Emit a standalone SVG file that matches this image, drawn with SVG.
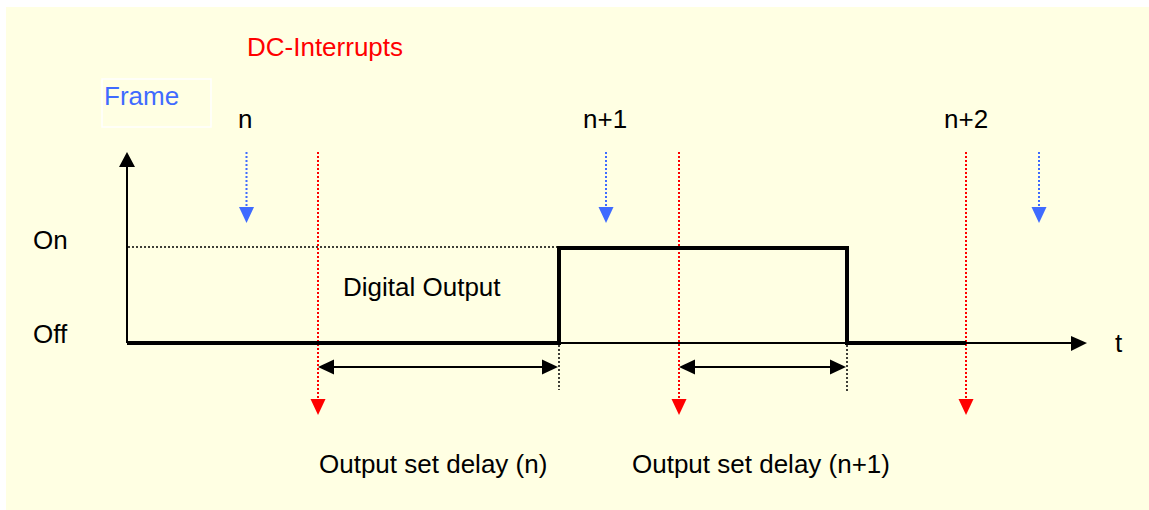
<svg xmlns="http://www.w3.org/2000/svg" width="1149" height="510" viewBox="0 0 1149 510">
  <defs>
    <style>
      text { font-family: "Liberation Sans", Arial, sans-serif; font-size: 26px; fill: #000; }
      .red { fill: #FF0000; }
      .blue { fill: #3F6BFF; }
      .reddot { stroke: #FF0000; stroke-width: 2; stroke-dasharray: 2 2; fill: none; }
      .bluedot { stroke: #3F6BFF; stroke-width: 2; stroke-dasharray: 2 2; fill: none; }
      .blackdot { stroke: #000; stroke-width: 1.5; stroke-dasharray: 2 2; fill: none; }
      .axis { stroke: #000; stroke-width: 2; fill: none; }
      .signal { stroke: #000; stroke-width: 4; fill: none; stroke-linejoin: miter; }
      .dim { stroke: #000; stroke-width: 2; fill: none; }
    </style>
  </defs>
  <rect x="0" y="0" width="1149" height="510" fill="#FFFFFF"/>
  <rect x="6" y="7" width="1143" height="503" fill="#FFFFE3"/>

  <g id="labels">
    <text class="red" x="247" y="56">DC-Interrupts</text>
    <g id="frame-label">
      <rect x="102" y="79" width="109" height="48" fill="none" stroke="#FFFFFF" stroke-width="1.5"/>
      <text class="blue" x="104" y="105">Frame</text>
    </g>
    <text x="238" y="128">n</text>
    <text x="583" y="128">n+1</text>
    <text x="944" y="128">n+2</text>
    <text x="33" y="249">On</text>
    <text x="33" y="343">Off</text>
    <text x="1115" y="352">t</text>
  </g>

  <g id="connectors">
    <!-- axes -->
    <line class="axis" x1="127" y1="343" x2="127" y2="165"/>
    <polygon points="127,152 119,167 135,167" fill="#000"/>
    <line class="axis" x1="127" y1="343" x2="1072" y2="343"/>
    <polygon points="1087,343 1071,336 1071,351" fill="#000"/>
    <!-- On level reference -->
    <line class="blackdot" x1="128" y1="247" x2="557" y2="247"/>
    <!-- blue frame arrows -->
    <line class="bluedot" x1="246.5" y1="152" x2="246.5" y2="208"/>
    <polygon points="246.5,223 239,207 254,207" fill="#3F6BFF"/>
    <line class="bluedot" x1="606" y1="152" x2="606" y2="208"/>
    <polygon points="606,223 598.5,207 613.5,207" fill="#3F6BFF"/>
    <line class="bluedot" x1="1039" y1="152" x2="1039" y2="208"/>
    <polygon points="1039,223 1031.5,207 1046.5,207" fill="#3F6BFF"/>
    <!-- red DC interrupt arrows -->
    <line class="reddot" x1="318" y1="152" x2="318" y2="400"/>
    <polygon points="318,415 310.5,399 325.5,399" fill="#FF0000"/>
    <line class="reddot" x1="679" y1="152" x2="679" y2="400"/>
    <polygon points="679,415 671.5,399 686.5,399" fill="#FF0000"/>
    <line class="reddot" x1="966" y1="152" x2="966" y2="400"/>
    <polygon points="966,415 958.5,399 973.5,399" fill="#FF0000"/>
    <!-- delay markers -->
    <line class="blackdot" x1="559" y1="345" x2="559" y2="390"/>
    <line class="blackdot" x1="847" y1="345" x2="847" y2="391"/>
    <line class="dim" x1="333" y1="367" x2="543" y2="367"/>
    <polygon points="318,367 334,359.5 334,374.5" fill="#000"/>
    <polygon points="558,367 542,359.5 542,374.5" fill="#000"/>
    <line class="dim" x1="694" y1="367" x2="831" y2="367"/>
    <polygon points="679,367 695,359.5 695,374.5" fill="#000"/>
    <polygon points="846,367 830,359.5 830,374.5" fill="#000"/>
  </g>

  <g id="digital-output">
    <polyline class="signal" points="127,343 559,343 559,248 847,248 847,343 966,343"/>
    <text x="343" y="296">Digital Output</text>
  </g>

  <g id="delay-labels">
    <text x="319" y="473">Output set delay (n)</text>
    <text x="632" y="473">Output set delay (n+1)</text>
  </g>
</svg>
